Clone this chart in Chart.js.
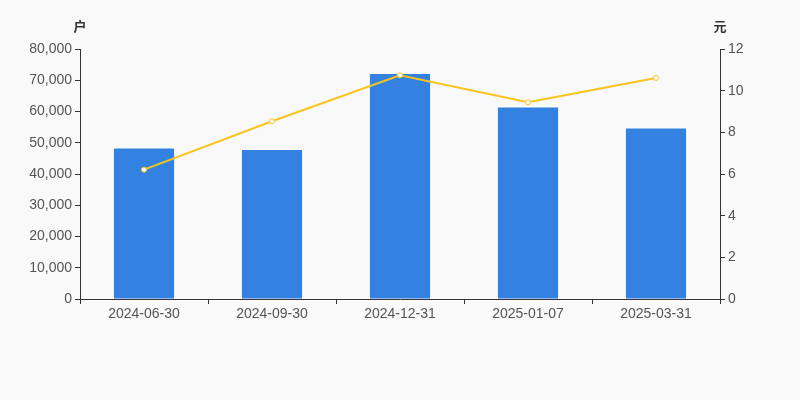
<!DOCTYPE html>
<html>
<head>
<meta charset="utf-8">
<script src="https://cdn.jsdelivr.net/npm/chart.js@4/dist/chart.umd.min.js"></script>
<style>
  html, body { margin: 0; padding: 0; background: #f9f9f9; }
  #wrap { width: 800px; height: 400px; }
</style>
</head>
<body>
<div id="wrap"><canvas id="holdersChart" width="800" height="400"></canvas></div>
<script>
var dates = ['2024-06-30', '2024-09-30', '2024-12-31', '2025-01-07', '2025-03-31'];
var holders = [48200, 47700, 72000, 61300, 54600];
var avgPrice = [6.21, 8.53, 10.74, 9.44, 10.61];
var leftTicks = [0, 10000, 20000, 30000, 40000, 50000, 60000, 70000, 80000];
var rightTicks = [0, 2, 4, 6, 8, 10, 12];

var font = '"Liberation Sans", "Noto Sans CJK SC", sans-serif';

// unit labels above both y axes
var unitLabels = {
    id: 'unitLabels',
    afterDraw: function (chart) {
        var ctx = chart.ctx;
        var area = chart.chartArea;
        ctx.save();
        ctx.fillStyle = '#333';
        ctx.font = 'bold 13px ' + font;
        ctx.textAlign = 'center';
        ctx.textBaseline = 'middle';
        ctx.fillText('户', area.left, 27);
        ctx.fillText('元', area.right, 27);
        ctx.restore();
    }
};

var ctx = document.getElementById('holdersChart').getContext('2d');
var holdersChart = new Chart(ctx, {
    data: {
        labels: dates,
        datasets: [{
            type: 'line',
            label: '户均持股金额',
            data: avgPrice,
            yAxisID: 'y1',
            borderColor: '#f8c41c',
            borderWidth: 2,
            pointRadius: 2.5,
            pointBackgroundColor: '#ffffff',
            pointBorderColor: '#f8c41c',
            pointBorderWidth: 1,
            tension: 0,
            order: 0
        }, {
            type: 'bar',
            label: '股东户数',
            data: holders,
            yAxisID: 'y',
            backgroundColor: '#3382e2',
            categoryPercentage: 1,
            barPercentage: 0.47,
            order: 1
        }]
    },
    options: {
        responsive: false,
        animation: false,
        layout: { padding: { top: 49, left: 0, right: 0, bottom: 0 } },
        plugins: {
            legend: { display: false },
            tooltip: { enabled: false }
        },
        scales: {
            x: {
                offset: true,
                grid: {
                    offset: true,
                    drawOnChartArea: false,
                    tickLength: 5,
                    color: '#333'
                },
                border: { color: '#333', width: 1 },
                ticks: {
                    color: '#555',
                    font: { family: font, size: 14 },
                    padding: 2,
                    maxRotation: 0
                },
                afterFit: function (scale) { scale.height = 101; }
            },
            y: {
                position: 'left',
                min: 0,
                max: 80000,
                afterBuildTicks: function (scale) {
                    scale.ticks = leftTicks.map(function (v) { return { value: v }; });
                },
                grid: { drawOnChartArea: false, tickLength: 5, color: '#333' },
                border: { color: '#333', width: 1 },
                ticks: {
                    color: '#555',
                    font: { family: font, size: 14 },
                    padding: 3
                },
                afterFit: function (scale) { scale.width = 80; }
            },
            y1: {
                position: 'right',
                min: 0,
                max: 12,
                afterBuildTicks: function (scale) {
                    scale.ticks = rightTicks.map(function (v) { return { value: v }; });
                },
                grid: { drawOnChartArea: false, tickLength: 5, color: '#333' },
                border: { color: '#333', width: 1 },
                ticks: {
                    color: '#555',
                    font: { family: font, size: 14 },
                    padding: 3
                },
                afterFit: function (scale) { scale.width = 80; }
            }
        }
    },
    plugins: [unitLabels]
});
</script>
</body>
</html>
